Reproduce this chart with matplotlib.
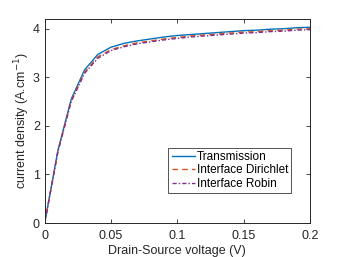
import matplotlib
matplotlib.use("Agg")
import matplotlib.pyplot as plt

x = [0, 0.01, 0.02, 0.03, 0.04, 0.05, 0.06, 0.07, 0.08, 0.09, 0.10, 0.11, 0.12, 0.13, 0.14, 0.15, 0.16, 0.17, 0.18, 0.19, 0.20]
transmission = [0, 1.50, 2.55, 3.15, 3.47, 3.62, 3.70, 3.75, 3.79, 3.83, 3.86, 3.88, 3.90, 3.92, 3.94, 3.96, 3.97, 3.99, 4.00, 4.02, 4.03]
dirichlet = [0, 1.48, 2.52, 3.10, 3.42, 3.57, 3.65, 3.71, 3.75, 3.79, 3.82, 3.85, 3.87, 3.89, 3.91, 3.93, 3.94, 3.96, 3.97, 3.99, 4.00]
robin = [0, 1.47, 2.50, 3.08, 3.39, 3.55, 3.63, 3.69, 3.73, 3.77, 3.80, 3.83, 3.85, 3.87, 3.89, 3.91, 3.92, 3.94, 3.95, 3.97, 3.98]
labels = ["Transmission", "Interface Dirichlet", "Interface Robin"]
xticks = [0, 0.05, 0.1, 0.15, 0.2]
xticklabels = ["0", "0.05", "0.1", "0.15", "0.2"]
yticks = [0, 1, 2, 3, 4]

plt.rcParams['font.family'] = ['Liberation Sans', 'DejaVu Sans']
fig = plt.figure(figsize=(3.42, 2.57), dpi=100)
ax = fig.add_axes([44.7/342, 34/257, (310-44.7)/342, (223-19)/257])

ax.plot(x, transmission, color=(0, 0.447, 0.741), lw=1.0, ls='-', label=labels[0])
ax.plot(x, dirichlet, color=(0.85, 0.325, 0.098), lw=1.0, ls=(0, (4, 3)), label=labels[1])
ax.plot(x, robin, color=(0.494, 0.184, 0.556), lw=1.0, ls=(0, (3, 1.5, 1, 1.5)), label=labels[2])

ax.set_xlim(0, 0.2)
ax.set_ylim(0, 4.2)
ax.set_xticks(xticks)
ax.set_xticklabels(xticklabels)
ax.set_yticks(yticks)
ax.tick_params(direction='in', top=True, right=True, labelsize=9, length=3, width=0.6, colors='#262626')
ax.tick_params(axis='x', pad=5)
ax.tick_params(axis='y', pad=3.5)
for s in ax.spines.values():
    s.set_linewidth(0.7)
    s.set_color('#262626')
ax.set_xlabel("Drain-Source voltage (V)", fontsize=9, color='#262626', labelpad=2)
ax.set_ylabel("current density (A.cm$^{-1}$)", fontsize=9, color='#262626', labelpad=0.5)

leg = ax.legend(loc='lower right', bbox_to_anchor=(0.93, 0.145), fontsize=8.5, frameon=True, fancybox=False,
                edgecolor='#262626', handlelength=2.0, handletextpad=0.1, borderpad=0.3, labelspacing=0.12,
                borderaxespad=0)
leg.get_frame().set_linewidth(0.7)

fig.savefig("out.png", dpi=100)
